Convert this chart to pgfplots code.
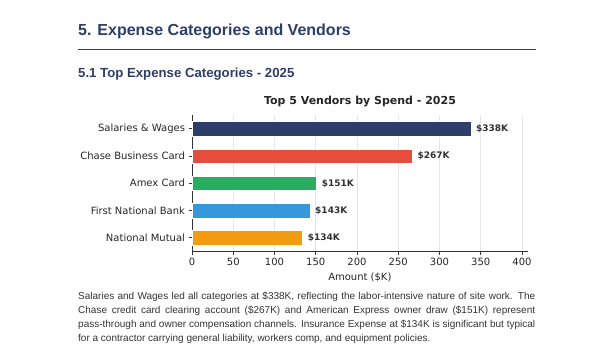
\documentclass[border=0pt]{standalone}
\usepackage{fontspec}
\setmainfont{Liberation Sans}
\newfontfamily\dejavu{DejaVu Sans}
\usepackage{pgfplots}
\pgfplotsset{compat=1.18}
\definecolor{navy}{HTML}{2D3E6B}
\definecolor{cred}{HTML}{E74C3C}
\definecolor{cgreen}{HTML}{27AE60}
\definecolor{cblue}{HTML}{3498DB}
\definecolor{corange}{HTML}{F39C12}
\definecolor{ptext}{HTML}{333333}
\begin{document}
\begin{tikzpicture}
\useasboundingbox (0,0) rectangle (612pt,-357pt);
% headings
\node[anchor=base west, inner sep=0pt, text=navy, font=\fontsize{16}{18}\selectfont\bfseries] at (78pt,-35pt) {5. Expense Categories and Vendors};
\draw[navy, line width=1.8pt] (78pt,-49.5pt) -- (536pt,-49.5pt);
\node[anchor=base west, inner sep=0pt, text=navy, font=\fontsize{13.2}{15}\selectfont\bfseries] at (78pt,-77.5pt) {5.1 Top Expense Categories - 2025};
\node[anchor=base, inner sep=0pt, text=black!85, font=\dejavu\fontsize{11}{13}\selectfont\bfseries] at (360pt,-104.5pt) {Top 5 Vendors by Spend - 2025};
\begin{axis}[
  at={(192pt,-251.5pt)}, anchor=south west,
  scale only axis, width=335.7pt, height=136.5pt,
  xbar, bar width=14.4pt,
  xmin=0, xmax=406.9, ymin=-0.5, ymax=4.5,
  ytick={0,1,2,3,4},
  yticklabels={National Mutual, First National Bank, Amex Card, Chase Business Card, Salaries \& Wages},
  xtick={0,50,...,400},
  axis x line*=bottom, axis y line*=left,
  axis line style={black!80, line width=0.8pt},
  tick align=outside, major tick length=3.5pt,
  tick style={black!80, line width=0.8pt},
  xmajorgrids, grid style={black!10, line width=0.6pt},
  /pgf/number format/assume math mode=true,
  ticklabel style={font=\dejavu\fontsize{10}{12}\selectfont, text=black!85},
  xlabel={Amount (\$K)},
  xlabel style={font=\dejavu\fontsize{10}{12}\selectfont, text=black!85},
  point meta=x,
  nodes near coords={\$\pgfmathprintnumber{\pgfplotspointmeta}K},
  every node near coord/.append style={anchor=west, inner sep=0pt, xshift=5pt, font=\dejavu\fontsize{9}{11}\selectfont\bfseries, text=black!80},
  every axis plot/.append style={bar shift=0pt, draw=white, line width=0.5pt},
]
\addplot[fill=navy] coordinates {(338,4)};
\addplot[fill=cred] coordinates {(267,3)};
\addplot[fill=cgreen] coordinates {(151,2)};
\addplot[fill=cblue] coordinates {(143,1)};
\addplot[fill=corange] coordinates {(134,0)};
\end{axis}
% paragraph
\begin{scope}[every node/.style={anchor=base west, inner sep=0pt, text=ptext, font=\fontsize{10}{12}\selectfont}]
\node at (78pt,-299.7pt) {\makebox[457pt][s]{Salaries and Wages led all categories at \$338K, reflecting the labor-intensive nature of site work. The}};
\node at (78pt,-313.7pt) {\makebox[457pt][s]{Chase credit card clearing account (\$267K) and American Express owner draw (\$151K) represent}};
\node at (78pt,-327.7pt) {\makebox[457pt][s]{pass-through and owner compensation channels. Insurance Expense at \$134K is significant but typical}};
\node at (78pt,-341.3pt) {for a contractor carrying general liability, workers comp, and equipment policies.};
\end{scope}
\end{tikzpicture}
\end{document}
